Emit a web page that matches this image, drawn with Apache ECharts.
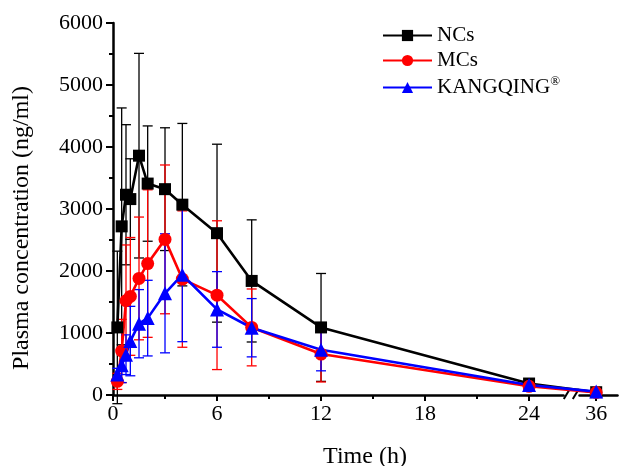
<!DOCTYPE html>
<html>
<head>
<meta charset="utf-8">
<script src="https://cdn.jsdelivr.net/npm/echarts@6/dist/echarts.min.js"></script>
<style>
html,body{margin:0;padding:0;background:#fff;}
#chart{width:619px;height:466px;}
</style>
</head>
<body>
<div id="chart"></div>
<script>
// ---- data ----
var times = [0.25, 0.5, 0.75, 1, 1.5, 2, 3, 4, 6, 8, 12, 24, 36];
var ncsMean = [1090, 2720, 3230, 3160, 3860, 3410, 3320, 3070, 2610, 1840, 1090, 185, 45];
var ncsSD   = [1230, 1910, 1130, 650, 1650, 930, 990, 1310, 1435, 985, 870, 60, 20];
var mcsMean = [220, 710, 1520, 1590, 1880, 2120, 2510, 1870, 1610, 1090, 660, 140, 40];
var mcsSD   = [130, 510, 900, 950, 990, 1190, 1200, 1100, 1200, 620, 450, 50, 20];
var kqMean  = [330, 480, 650, 870, 1150, 1240, 1640, 1940, 1380, 1085, 730, 160, 55];
var kqSD    = [100, 280, 320, 560, 550, 610, 960, 1080, 610, 470, 340, 70, 20];
var xTickValues = [0, 6, 12, 18, 24, 36];
var xMinorTickValues = [3, 9, 15, 21];
var seriesNames = ['NCs', 'MCs', 'KANGQING'];

var FONT = '"Liberation Serif", "Times New Roman", serif';
var chart = echarts.init(document.getElementById('chart'), null, {renderer: 'canvas'});

function pairs(m) { return times.map(function (t, i) { return [t, m[i]]; }); }
function errData(m, s) { return times.map(function (t, i) { return [t, m[i] - s[i], m[i] + s[i]]; }); }
function errSeries(color, m, s) {
  return {
    type: 'custom', xAxisIndex: 0, yAxisIndex: 0, silent: true, z: 1,
    data: errData(m, s),
    encode: {x: 0, y: [1, 2]},
    renderItem: function (params, api) {
      var x = api.value(0);
      var lo = api.coord([x, api.value(1)]);
      var hi = api.coord([x, api.value(2)]);
      var w = 5;
      var st = {stroke: color, lineWidth: 1.3};
      return {type: 'group', children: [
        {type: 'line', shape: {x1: lo[0], y1: lo[1], x2: hi[0], y2: hi[1]}, style: st},
        {type: 'line', shape: {x1: lo[0] - w, y1: lo[1], x2: lo[0] + w, y2: lo[1]}, style: st},
        {type: 'line', shape: {x1: hi[0] - w, y1: hi[1], x2: hi[0] + w, y2: hi[1]}, style: st}
      ]};
    }
  };
}
function lineSeries(name, color, symbol, size, m) {
  return {
    name: name, type: 'line', xAxisIndex: 0, yAxisIndex: 0, data: pairs(m),
    symbol: symbol, symbolSize: size, z: 3,
    lineStyle: {color: color, width: 2.6},
    itemStyle: {color: color},
    emphasis: {disabled: true}
  };
}

var xBase = {
  type: 'value', min: 0, max: 37.2, interval: 6,
  breaks: [{start: 26, end: 35, gap: '3%'}],
  breakArea: {show: false},
  splitLine: {show: false}
};

var option = {
  animation: false,
  backgroundColor: '#fff',
  grid: {left: 113, right: 2, top: 23, bottom: 71, containLabel: false, outerBoundsMode: 'none'},
  legend: {
    data: seriesNames,
    orient: 'vertical', left: 382, top: 25, padding: 0,
    itemWidth: 49, itemHeight: 14, itemGap: 4,
    formatter: function (n) { return n === 'KANGQING' ? 'KANGQING{sup|®}' : n; },
    textStyle: {fontFamily: FONT, fontSize: 21, color: '#000',
      rich: {sup: {fontFamily: FONT, fontSize: 13, color: '#000', verticalAlign: 'top', padding: [0, 0, 12, 0]}}},
    selectedMode: false
  },
  xAxis: [
    Object.assign({}, xBase, {
      name: 'Time (h)', nameLocation: 'middle', nameGap: 50,
      nameTextStyle: {fontFamily: FONT, fontSize: 24, color: '#000'},
      axisLine: {show: true, onZero: false, lineStyle: {color: '#000', width: 2.5}},
      axisTick: {show: true, inside: false, length: 6, customValues: xTickValues, lineStyle: {color: '#000', width: 2}},
      axisLabel: {customValues: xTickValues, fontFamily: FONT, fontSize: 22, color: '#000', margin: 8}
    }),
    Object.assign({}, xBase, {
      position: 'bottom',
      axisLine: {show: false, onZero: false},
      axisTick: {show: true, inside: false, length: 4, customValues: xMinorTickValues, lineStyle: {color: '#000', width: 2}},
      axisLabel: {show: false}
    })
  ],
  yAxis: {
    type: 'value', min: 0, max: 6000, interval: 1000,
    name: 'Plasma concentration (ng/ml)', nameLocation: 'middle', nameGap: 79,
    nameTextStyle: {fontFamily: FONT, fontSize: 24, color: '#000', padding: [0, 38, 0, 0]},
    axisLine: {show: true, lineStyle: {color: '#000', width: 2.5}},
    axisTick: {show: true, inside: false, length: 7, lineStyle: {color: '#000', width: 2}},
    minorTick: {show: true, splitNumber: 2, length: 4, lineStyle: {color: '#000', width: 2}},
    axisLabel: {fontFamily: FONT, fontSize: 22, color: '#000', margin: 10,
      formatter: function (v) { return String(v); }},
    splitLine: {show: false}
  },
  series: [
    errSeries('#000000', ncsMean, ncsSD),
    errSeries('#ff0000', mcsMean, mcsSD),
    errSeries('#0000ff', kqMean, kqSD),
    lineSeries('NCs', '#000000', 'rect', 12, ncsMean),
    lineSeries('MCs', '#ff0000', 'circle', 13, mcsMean),
    lineSeries('KANGQING', '#0000ff', 'triangle', 14, kqMean)
  ]
};
chart.setOption(option);

// break marks "//" on the x axis
var bs = chart.convertToPixel({xAxisIndex: 0}, 26);
var be = chart.convertToPixel({xAxisIndex: 0}, 35);
var y0 = chart.convertToPixel({yAxisIndex: 0}, 0);
var cx = (bs + be) / 2;
chart.setOption({graphic: [
  {type: 'rect', z: 1, shape: {x: cx - 5, y: y0 - 2, width: 10, height: 4}, style: {fill: '#fff'}},
  {type: 'line', z: 1, shape: {x1: cx - 7.5, y1: y0 + 4, x2: cx - 1.5, y2: y0 - 6}, style: {stroke: '#000', lineWidth: 2}},
  {type: 'line', z: 1, shape: {x1: cx + 1.5, y1: y0 + 4, x2: cx + 7.5, y2: y0 - 6}, style: {stroke: '#000', lineWidth: 2}}
]});
</script>
</body>
</html>
